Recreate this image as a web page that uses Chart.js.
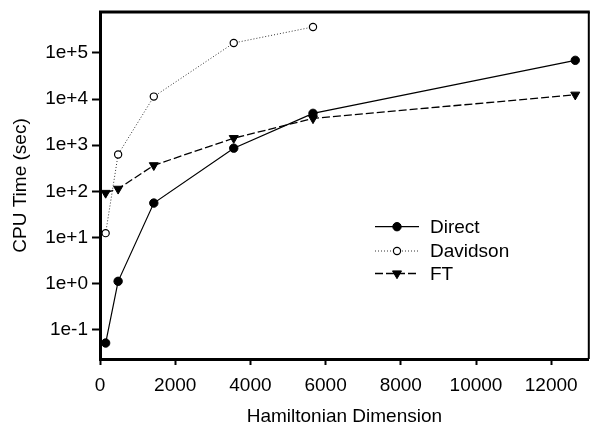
<!DOCTYPE html>
<html><head><meta charset="utf-8">
<script src="https://cdn.jsdelivr.net/npm/chart.js@4/dist/chart.umd.min.js"></script>
<style>html,body{margin:0;padding:0;background:#fff}#wrap{width:595px;height:426px}</style>
</head><body><div id="wrap"><canvas id="c" width="595" height="426"></canvas></div>
<script>
const directX = [150, 482, 1431, 3557, 5665, 12640];
const directY = [0.0515, 1.12, 55.6, 861, 4900, 69000];
const davidsonX = [150, 482, 1431, 3557, 5665];
const davidsonY = [12.4, 630, 11300, 164000, 365000];
const ftX = [150, 482, 1431, 3557, 5665, 12640];
const ftY = [92, 113, 366, 1420, 3800, 12400];
const xTicks = [0, 2000, 4000, 6000, 8000, 10000, 12000];
const yTicks = [1e-1, 1e0, 1e1, 1e2, 1e3, 1e4, 1e5];
const yTickLabels = ['1e-1', '1e+0', '1e+1', '1e+2', '1e+3', '1e+4', '1e+5'];
const seriesNames = ['Direct', 'Davidson', 'FT'];

const pts = (xs, ys) => xs.map((x, i) => ({x: x, y: ys[i]}));
const FONT = 'Liberation Sans, Arial, sans-serif';
const FS = 19;

const legendPlugin = {
  id: 'customLegend',
  afterDatasetsDraw(chart) {
    const ctx = chart.ctx;
    const rows = [226.7, 251, 273.5];
    chart.data.datasets.forEach((ds, i) => {
      const y = rows[i];
      ctx.save();
      ctx.strokeStyle = ds.borderColor;
      ctx.lineWidth = ds.borderWidth;
      ctx.setLineDash(ds.borderDash || []);
      ctx.beginPath(); ctx.moveTo(375, y); ctx.lineTo(419, y); ctx.stroke();
      ctx.restore();
      ctx.save();
      ctx.fillStyle = ds.pointBackgroundColor;
      ctx.strokeStyle = '#000';
      ctx.lineWidth = ds.pointBorderWidth;
      Chart.helpers.drawPoint(ctx, {pointStyle: ds.pointStyle, rotation: ds.pointRotation || 0, radius: ds.pointRadius, borderWidth: ds.pointBorderWidth}, 397, y);
      ctx.restore();
      ctx.save();
      ctx.fillStyle = '#000';
      ctx.font = FS + 'px ' + FONT;
      ctx.textBaseline = 'middle';
      ctx.textAlign = 'left';
      ctx.fillText(ds.label, 430, y + 1);
      ctx.restore();
    });
  }
};

const framePlugin = {
  id: 'frame',
  afterDraw(chart) {
    const a = chart.chartArea, ctx = chart.ctx;
    ctx.save();
    ctx.strokeStyle = '#000';
    ctx.lineWidth = 3;
    ctx.beginPath(); ctx.moveTo(a.left - 1, a.top); ctx.lineTo(a.right + 1, a.top); ctx.stroke();
    ctx.lineWidth = 2;
    ctx.beginPath(); ctx.moveTo(a.right, a.top); ctx.lineTo(a.right, a.bottom); ctx.stroke();
    ctx.restore();
  }
};

new Chart(document.getElementById('c'), {
  type: 'line',
  data: {
    datasets: [
      {label: seriesNames[0], data: pts(directX, directY), borderColor: '#000', borderWidth: 1.2,
       pointStyle: 'circle', pointRadius: 4.2, pointBackgroundColor: '#000', pointBorderColor: '#000', pointBorderWidth: 1},
      {label: seriesNames[1], data: pts(davidsonX, davidsonY), borderColor: '#333', borderWidth: 1, borderDash: [1, 2],
       pointStyle: 'circle', pointRadius: 3.6, pointBackgroundColor: '#fff', pointBorderColor: '#000', pointBorderWidth: 1.2},
      {label: seriesNames[2], data: pts(ftX, ftY), borderColor: '#000', borderWidth: 1.3, borderDash: [8, 3],
       pointStyle: 'triangle', pointRotation: 180, pointRadius: 5.2, pointBackgroundColor: '#000', pointBorderColor: '#000', pointBorderWidth: 1}
    ]
  },
  options: {
    responsive: false,
    animation: false,
    layout: {padding: {top: 12, right: -2, left: 0, bottom: 0}},
    plugins: {legend: {display: false}, tooltip: {enabled: false}},
    elements: {line: {tension: 0}},
    scales: {
      x: {
        type: 'linear', min: 0, max: 13000,
        afterBuildTicks: s => { s.ticks = xTicks.map(v => ({value: v})); },
        afterFit: s => { s.height = 67; s.paddingRight = 0; s.paddingLeft = 0; },
        grid: {display: true, drawOnChartArea: false, drawTicks: true, tickLength: 6, tickColor: '#000', tickWidth: 2},
        border: {display: true, color: '#000', width: 3},
        ticks: {color: '#000', font: {family: FONT, size: FS}, padding: 9, maxRotation: 0, callback: v => String(v)},
        title: {display: true, text: 'Hamiltonian Dimension', color: '#000', font: {family: FONT, size: FS}, padding: {top: 0, bottom: -2}}
      },
      y: {
        type: 'logarithmic', min: 0.0232, max: 7.7e5,
        afterBuildTicks: s => { s.ticks = yTicks.map(v => ({value: v})); },
        afterFit: s => { s.width = 100; s.paddingTop = 0; s.paddingBottom = 0; },
        grid: {display: true, drawOnChartArea: false, drawTicks: true, tickLength: 8, tickColor: '#000', tickWidth: 2},
        border: {display: true, color: '#000', width: 3},
        ticks: {color: '#000', font: {family: FONT, size: FS}, padding: 4,
          callback: (v) => { const i = yTicks.findIndex(t => Math.abs(t - v) / t < 1e-6); return i >= 0 ? yTickLabels[i] : ''; }},
        title: {display: true, text: 'CPU Time (sec)', color: '#000', font: {family: FONT, size: FS}, padding: {top: 9, bottom: 0}}
      }
    }
  },
  plugins: [legendPlugin, framePlugin]
});
</script>
</body></html>
